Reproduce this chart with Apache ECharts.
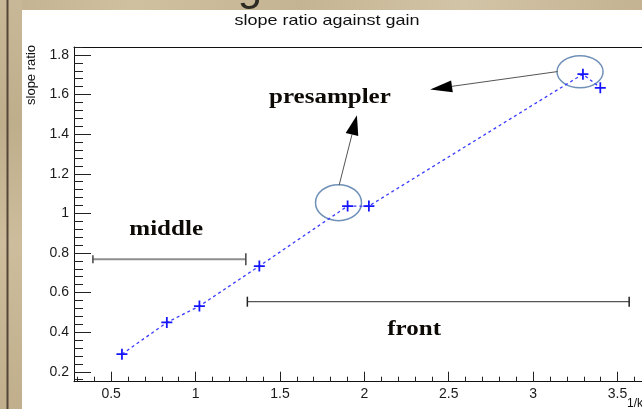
<!DOCTYPE html>
<html>
<head>
<meta charset="utf-8">
<script src="https://cdn.jsdelivr.net/npm/echarts@6/dist/echarts.min.js"></script>
<style>
  html, body { margin: 0; padding: 0; background: #c8b796; }
  #chart { width: 642px; height: 409px; }
</style>
</head>
<body>
<div id="chart"></div>
<script>
// Measured points: inverse gain vs. slope ratio
const gainX      = [0.564, 0.830, 1.023, 1.378, 1.901, 2.027, 3.295, 3.398];
const slopeRatio = [0.289, 0.449, 0.532, 0.734, 1.037, 1.037, 1.703, 1.634];

// Axis ticks
const xTickLabels = [0.5, 1, 1.5, 2, 2.5, 3, 3.5];
const yTickLabels = [0.2, 0.4, 0.6, 0.8, 1, 1.2, 1.4, 1.6, 1.8];

// Layer ranges: [xStart, xEnd, y]
const middleRange = [0.392, 1.298, 0.768];
const frontRange  = [1.307, 3.569, 0.554];

// Circled points and the arrows pointing from them to the label
const circleCenters = [[1.847, 1.054], [3.278, 1.715]];
const arrowPaths = [
  [[1.851, 1.143], [1.956, 1.496]],
  [[3.145, 1.716], [2.390, 1.626]]
];

// Layer names: [text, x, y]
const layerLabels = [
  ['middle', 0.826, 0.919],
  ['presampler', 1.796, 1.581],
  ['front', 2.295, 0.411]
];

// The frame runs on past the right edge of the pad view
const X_MIN = 0.28, X_MAX = 3.645, Y_MIN = 0.15, Y_MAX = 1.84;

const xMinor = [];
for (let i = 3; i <= 36; i++) if (i % 5) xMinor.push(i / 10);
const yMinor = [];
for (let i = 4; i <= 46; i++) if (i % 5) yMinor.push(Math.round(i * 4) / 100);

const axisFont = '"Liberation Sans", Arial, Helvetica, sans-serif';
const serifFont = '"Liberation Serif", "Times New Roman", serif';
const plusSymbol = 'path://M0,4.2H10V5.8H0Z M4.2,0H5.8V10H4.2Z';

const chart = echarts.init(document.getElementById('chart'), null, { renderer: 'canvas' });

function majorX() {
  return {
    type: 'value', min: X_MIN, max: X_MAX, position: 'bottom',
    axisLine: { show: true, onZero: false, lineStyle: { color: '#111', width: 1 } },
    axisTick: { show: true, inside: true, length: 10, customValues: xTickLabels, lineStyle: { color: '#222', width: 1 } },
    axisLabel: { customValues: xTickLabels, margin: 5, fontSize: 14, color: '#1a1a1a', fontFamily: axisFont },
    splitLine: { show: false }
  };
}
function minorX() {
  return {
    type: 'value', min: X_MIN, max: X_MAX, position: 'bottom',
    axisLine: { show: false, onZero: false },
    axisTick: { show: true, inside: true, length: 5, customValues: xMinor, lineStyle: { color: '#222', width: 1 } },
    axisLabel: { show: false },
    splitLine: { show: false }
  };
}
function frameTop() {
  return {
    type: 'value', min: X_MIN, max: X_MAX, position: 'top',
    axisLine: { show: true, onZero: false, lineStyle: { color: '#111', width: 1 } },
    axisTick: { show: false }, axisLabel: { show: false }, splitLine: { show: false }
  };
}
function majorY() {
  return {
    type: 'value', min: Y_MIN, max: Y_MAX, position: 'left',
    axisLine: { show: true, onZero: false, lineStyle: { color: '#111', width: 1 } },
    axisTick: { show: true, inside: true, length: 17, customValues: yTickLabels, lineStyle: { color: '#222', width: 1 } },
    axisLabel: { customValues: yTickLabels, margin: 5, fontSize: 14, color: '#1a1a1a', fontFamily: axisFont },
    splitLine: { show: false }
  };
}
function minorY() {
  return {
    type: 'value', min: Y_MIN, max: Y_MAX, position: 'left',
    axisLine: { show: false, onZero: false },
    axisTick: { show: true, inside: true, length: 9, customValues: yMinor, lineStyle: { color: '#222', width: 1 } },
    axisLabel: { show: false },
    splitLine: { show: false }
  };
}

chart.setOption({
  animation: false,
  backgroundColor: '#c8b796',
  grid: { left: 74, top: 47, right: 0, bottom: 27.3, show: false },
  xAxis: [majorX(), minorX(), frameTop()],
  yAxis: [majorY(), minorY()],
  series: [{
    type: 'line',
    xAxisIndex: 0, yAxisIndex: 0,
    data: gainX.map((x, i) => [x, slopeRatio[i]]),
    symbol: plusSymbol,
    symbolSize: 11,
    itemStyle: { color: '#1414ff' },
    lineStyle: { color: '#3a3aff', width: 1.3, type: [3, 3] },
    z: 5
  }]
});

function px(p) {
  return chart.convertToPixel({ xAxisIndex: 0, yAxisIndex: 0 }, p);
}

const g = [];

// Parchment surround and the white pad
g.push({
  type: 'rect', z: -30, silent: true,
  shape: { x: 0, y: 0, width: 642, height: 409 },
  style: {
    fill: {
      type: 'linear', x: 0, y: 0, x2: 1, y2: 0.3,
      colorStops: [
        { offset: 0, color: '#c3b190' }, { offset: 0.2, color: '#cfc0a0' },
        { offset: 0.45, color: '#c5b493' }, { offset: 0.7, color: '#d2c4a6' },
        { offset: 1, color: '#c2b08f' }
      ]
    }
  }
});
g.push({
  type: 'rect', z: -29, silent: true,
  shape: { x: 0, y: 0, width: 22, height: 409 },
  style: {
    fill: {
      type: 'linear', x: 0, y: 0, x2: 0, y2: 1,
      colorStops: [
        { offset: 0, color: '#c9b897' }, { offset: 0.3, color: '#bfae8c' },
        { offset: 0.6, color: '#cdbd9c' }, { offset: 1, color: '#c0ae8c' }
      ]
    }
  }
});
g.push({
  type: 'rect', z: -28, silent: true,
  shape: { x: 6.5, y: 0, width: 2, height: 409 },
  style: { fill: '#54473a' }
});
g.push({
  type: 'text', z: -27, silent: true,
  x: 250, y: 10,
  style: { text: 'g', x: 0, y: 0, align: 'center', verticalAlign: 'bottom',
           font: '44px ' + axisFont, fill: '#2e2a24' }
});
g.push({
  type: 'rect', z: -20, silent: true,
  shape: { x: 22, y: 10, width: 620, height: 399 },
  style: { fill: '#ffffff' }
});

// Title and axis names
g.push({
  type: 'text', silent: true, x: 327, y: 21, scaleX: 1.2,
  style: { text: 'slope ratio against gain', x: 0, y: 0, align: 'center', verticalAlign: 'middle',
           font: '15px ' + axisFont, fill: '#111' }
});
g.push({
  type: 'text', silent: true, x: 31, y: 45, rotation: Math.PI / 2,
  style: { text: 'slope ratio', x: 0, y: 0, align: 'right', verticalAlign: 'middle',
           font: '13px ' + axisFont, fill: '#111' }
});
g.push({
  type: 'text', silent: true, x: 627, y: 404,
  style: { text: '1/k', x: 0, y: 0, align: 'left', verticalAlign: 'middle',
           font: '12px ' + axisFont, fill: '#111' }
});

// Range bars with end caps
function rangeBar(r, lineColor, lineW, capColor, capL, capR) {
  const a = px([r[0], r[2]]), b = px([r[1], r[2]]);
  g.push({ type: 'line', silent: true, z: 3, shape: { x1: a[0], y1: a[1], x2: b[0], y2: b[1] },
           style: { stroke: lineColor, lineWidth: lineW } });
  g.push({ type: 'line', silent: true, z: 3, shape: { x1: a[0], y1: a[1] - capL / 2, x2: a[0], y2: a[1] + capL / 2 },
           style: { stroke: capColor, lineWidth: 1.5 } });
  g.push({ type: 'line', silent: true, z: 3, shape: { x1: b[0], y1: b[1] - capR / 2, x2: b[0], y2: b[1] + capR / 2 },
           style: { stroke: capColor, lineWidth: 1.5 } });
}
rangeBar(middleRange, '#8e8e8e', 2, '#444', 8, 12);
rangeBar(frontRange, '#555', 1.3, '#222', 10, 10);

// Circles around the presampler points
circleCenters.forEach((c, k) => {
  const p = px(c);
  g.push({ type: 'ellipse', silent: true, z: 4,
           shape: { cx: p[0], cy: p[1], rx: 23, ry: k === 0 ? 18 : 16 },
           style: { fill: 'none', stroke: '#6f91b8', lineWidth: 1.5 } });
});

// Arrows
arrowPaths.forEach((seg, k) => {
  const s = px(seg[0]), t = px(seg[1]);
  const dx = t[0] - s[0], dy = t[1] - s[1];
  const len = Math.hypot(dx, dy);
  const ux = dx / len, uy = dy / len, nx = -uy, ny = ux;
  const L = k === 0 ? 20 : 22, W = k === 0 ? 6.5 : 6;
  const bx = t[0] - ux * L, by = t[1] - uy * L;
  g.push({ type: 'line', silent: true, z: 4, shape: { x1: s[0], y1: s[1], x2: bx, y2: by },
           style: { stroke: '#555', lineWidth: 1 } });
  g.push({ type: 'polygon', silent: true, z: 4,
           shape: { points: [[t[0], t[1]], [bx + nx * W, by + ny * W], [bx - nx * W, by - ny * W]] },
           style: { fill: '#000' } });
});

// Layer names
layerLabels.forEach(l => {
  const p = px([l[1], l[2]]);
  g.push({ type: 'text', silent: true, z: 4, x: p[0], y: p[1], scaleX: 1.25,
           style: { text: l[0], x: 0, y: 0, align: 'center', verticalAlign: 'middle',
                    font: 'bold 20px ' + serifFont, fill: '#0d0a06',
                    shadowColor: 'rgba(140,100,40,0.55)', shadowBlur: 1, shadowOffsetX: 0.6, shadowOffsetY: 0.6 } });
});

chart.setOption({ graphic: g });
</script>
</body>
</html>
